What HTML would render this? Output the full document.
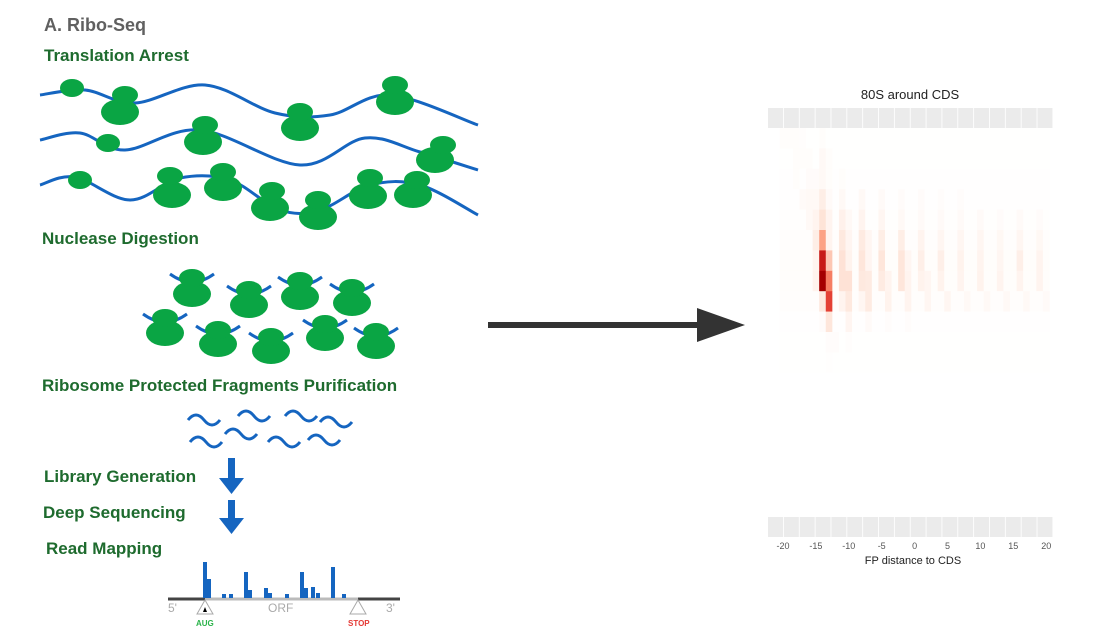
<!DOCTYPE html>
<html><head><meta charset="utf-8"><style>
body{margin:0;background:#fff;width:1100px;height:635px;overflow:hidden;font-family:"Liberation Sans",sans-serif}
svg{position:absolute;left:0;top:0}
</style></head><body>
<svg id="s" width="1100" height="635">
<g id="left">
<text x="44" y="31" font-size="18" font-weight="bold" fill="#606060">A. Ribo-Seq</text>
<g font-size="17" font-weight="bold" fill="#1e6b2e">
<text x="44" y="61">Translation Arrest</text>
<text x="42" y="244">Nuclease Digestion</text>
<text x="42" y="391">Ribosome Protected Fragments Purification</text>
<text x="44" y="482">Library Generation</text>
<text x="43" y="518">Deep Sequencing</text>
<text x="46" y="554">Read Mapping</text>
</g>
<g id="waves" fill="none" stroke="#1565c0" stroke-width="3"></g>
<g id="ribos" fill="#0aa544"></g>
<g fill="none" stroke="#1565c0" stroke-width="3">
<path d="M188 420 q8 -10 16 0 t16 0"/><path d="M238 416 q8 -10 16 0 t16 0"/><path d="M285 416 q8 -10 16 0 t16 0"/><path d="M320 422 q8 -10 16 0 t16 0"/>
<path d="M190 442 q8 -10 16 0 t16 0"/><path d="M225 434 q8 -10 16 0 t16 0"/><path d="M268 442 q8 -10 16 0 t16 0"/><path d="M308 440 q8 -10 16 0 t16 0"/>
</g>
<g fill="#1565c0">
<rect x="228" y="458" width="7" height="22"/><polygon points="219,478 244,478 231.5,494"/>
<rect x="228" y="500" width="7" height="20"/><polygon points="219,518 244,518 231.5,534"/>
</g>
<g id="mapping">
<line x1="168" y1="599" x2="205" y2="599" stroke="#444" stroke-width="3"/>
<line x1="205" y1="599" x2="358" y2="599" stroke="#bbb" stroke-width="3"/>
<line x1="358" y1="599" x2="400" y2="599" stroke="#444" stroke-width="3"/>
<g id="bars" fill="#1565c0"></g>
<polygon points="205,600 197,614 213,614" fill="#fff" stroke="#aaa"/>
<polygon points="203,612 205,607 207,612" fill="#000"/>
<polygon points="358,600 350,614 366,614" fill="#fff" stroke="#aaa"/>
<text x="168" y="612" font-size="12" fill="#aaa">5'</text>
<text x="268" y="612" font-size="12" fill="#aaa">ORF</text>
<text x="386" y="612" font-size="12" fill="#aaa">3'</text>
<text x="196" y="626" font-size="8" font-weight="bold" fill="#2bb34a">AUG</text>
<text x="348" y="626" font-size="8" font-weight="bold" fill="#e53935">STOP</text>
</g>
</g>
<g>
<rect x="488" y="322" width="212" height="6" fill="#333"/>
<polygon points="697,308 745,325 697,342" fill="#333"/>
</g>
<g id="chart">
<text x="910" y="99" text-anchor="middle" font-size="13" fill="#222">80S around CDS</text>
<g id="strips"></g>
<g id="cells"></g>
<g id="xt" font-size="9" fill="#555" text-anchor="middle"></g>
<text x="913" y="564" text-anchor="middle" font-size="11" fill="#222">FP distance to CDS</text>
</g>
</svg>
<script>
const NS='http://www.w3.org/2000/svg';
function mk(t,a,p){const e=document.createElementNS(NS,t);for(const k in a)e.setAttribute(k,a[k]);p.appendChild(e);return e;}
const W=[[[40,95],[85,90],[135,103],[205,85],[275,113],[330,115],[390,95],[478,125]],
[[40,140],[80,133],[125,150],[200,130],[300,165],[365,138],[420,152],[478,170]],
[[40,185],[75,177],[130,200],[180,178],[230,180],[280,210],[320,210],[370,185],[420,185],[478,215]]];
W.forEach(p=>{let d='M'+p[0];for(let i=0;i<p.length-1;i++){const a=p[i-1]||p[i],b=p[i],c=p[i+1],e=p[i+2]||c;
d+=' C'+(b[0]+(c[0]-a[0])/6)+','+(b[1]+(c[1]-a[1])/6)+' '+(c[0]-(e[0]-b[0])/6)+','+(c[1]-(e[1]-b[1])/6)+' '+c;}
const el=mk('path',{d:d},document.getElementById('waves'));

});
const R=document.getElementById('ribos');
[[72,88],[108,143],[80,180]].forEach(c=>{const e=mk('ellipse',{cx:c[0],cy:c[1],rx:12,ry:9},R);

});
[[125,95,120,112],[300,112,300,128],[395,85,395,102],[205,125,203,142],[443,145,435,160],[170,176,172,195],[223,172,223,188],[272,191,270,208],[318,200,318,217],[370,178,368,196],[417,180,413,195],
[192,278,192,294],[249,290,249,305],[300,281,300,297],[352,288,352,303],[165,318,165,333],[218,330,218,344],[271,337,271,351],[325,324,325,338],[376,332,376,346]].forEach((c,i)=>{
if(i>=11){const a=mk('path',{d:`M${c[0]-22} ${c[1]-4} q22 16 44 0`,fill:'none',stroke:'#1565c0','stroke-width':3},R);

}
const g=mk('g',{},R);


mk('ellipse',{cx:c[2],cy:c[3],rx:19,ry:13},g);mk('ellipse',{cx:c[0],cy:c[1],rx:13,ry:9},g);});
const barX=[205,209,224,231,246,250,266,270,287,302,306,313,318,333,344];
const barTop=[562,579,594,594,572,590,588,593,594,572,588,587,593,567,594];
const B=document.getElementById('bars');
barX.forEach((x,i)=>{const r=mk('rect',{x:x-2,y:barTop[i],width:4,height:598-barTop[i]},B);

});

const positions=[];for(let v=-20;v<=20;v++)positions.push(v);
const xTicks=[-20,-15,-10,-5,0,5,10,15,20];
function row(base,sp){const a=positions.map(()=>base);for(const k in sp)a[positions.indexOf(+k)]=sp[k];return a;}
const rows=[
row(0.004,{'-20':0.02,'-19':0.02,'-18':0.02,'-17':0.015,'-14':0.02}),
row(0.004,{'-18':0.02,'-17':0.02,'-16':0.02,'-14':0.05,'-13':0.02}),
row(0.005,{'-18':0.02,'-16':0.03,'-15':0.03,'-14':0.05,'-13':0.02,'-11':0.02}),
row(0.008,{'-17':0.04,'-16':0.05,'-15':0.05,'-14':0.14,'-13':0.04,'-11':0.05,'-8':0.05,'-5':0.04,'-2':0.03,'1':0.03,'4':0.025,'7':0.025}),
row(0.01,{'-16':0.05,'-15':0.09,'-14':0.22,'-13':0.09,'-11':0.11,'-10':0.05,'-8':0.09,'-5':0.07,'-2':0.05,'1':0.04,'4':0.04,'7':0.04,'10':0.04,'13':0.03,'16':0.04,'19':0.03}),
row(0.015,{'-15':0.14,'-14':0.45,'-13':0.09,'-11':0.18,'-10':0.08,'-8':0.16,'-7':0.07,'-5':0.14,'-2':0.14,'1':0.09,'4':0.07,'7':0.07,'10':0.07,'13':0.06,'16':0.07,'19':0.06}),
row(0.02,{'-15':0.09,'-14':0.85,'-13':0.33,'-11':0.23,'-10':0.1,'-8':0.2,'-7':0.08,'-5':0.2,'-2':0.2,'-1':0.07,'1':0.13,'4':0.13,'7':0.1,'10':0.09,'13':0.07,'16':0.13,'19':0.09}),
row(0.02,{'-15':0.1,'-14':1.0,'-13':0.55,'-11':0.23,'-10':0.23,'-8':0.18,'-7':0.16,'-5':0.16,'-4':0.09,'-2':0.2,'-1':0.09,'1':0.1,'2':0.07,'4':0.1,'7':0.09,'10':0.1,'13':0.09,'16':0.09,'19':0.09}),
row(0.015,{'-14':0.18,'-13':0.7,'-11':0.09,'-10':0.18,'-8':0.07,'-7':0.16,'-4':0.1,'-1':0.09,'2':0.07,'5':0.07,'8':0.05,'11':0.05,'14':0.05,'17':0.05,'20':0.04}),
row(0.006,{'-14':0.03,'-13':0.2,'-10':0.08,'-7':0.04,'-4':0.025,'-1':0.025}),
row(0.004,{'-13':0.025,'-12':0.025,'-10':0.015}),
row(0.003,{'-13':0.012}),row(0.002,{}),row(0.002,{}),row(0.001,{}),row(0.001,{}),row(0.001,{}),row(0.001,{}),row(0.001,{})];
const x0=783,dx=6.58,y0=128,dy=20.4;
const xs=v=>x0+(v+20)*dx, ys=r=>y0+r*dy;
const stops=[[255,255,255],[254,224,210],[252,146,114],[222,45,38],[165,0,0]];
function col(t){t=Math.max(0,Math.min(1,t))*(stops.length-1);const i=Math.min(stops.length-2,Math.floor(t)),f=t-i;
return 'rgb('+stops[i].map((c,k)=>Math.round(c+(stops[i+1][k]-c)*f)).join(',')+')';}
const C=document.getElementById('cells');
rows.forEach((r,ri)=>r.forEach((v,ci)=>{const e=mk('rect',{x:xs(positions[ci])-dx/2,y:ys(ri),width:dx+0.3,height:dy+0.3,fill:col(v)},C);

}));
const S=document.getElementById('strips');
[108,517].forEach((y,k)=>{const g=mk('g',{},S);


for(let i=0;i<18;i++)mk('rect',{x:768+i*15.85,y:y,width:15,height:20,fill:'#ebebeb'},g);});
const X=document.getElementById('xt');
xTicks.forEach(v=>{const t=mk('text',{x:xs(v),y:549},X);t.textContent=v;

});
</script>
</body></html>
